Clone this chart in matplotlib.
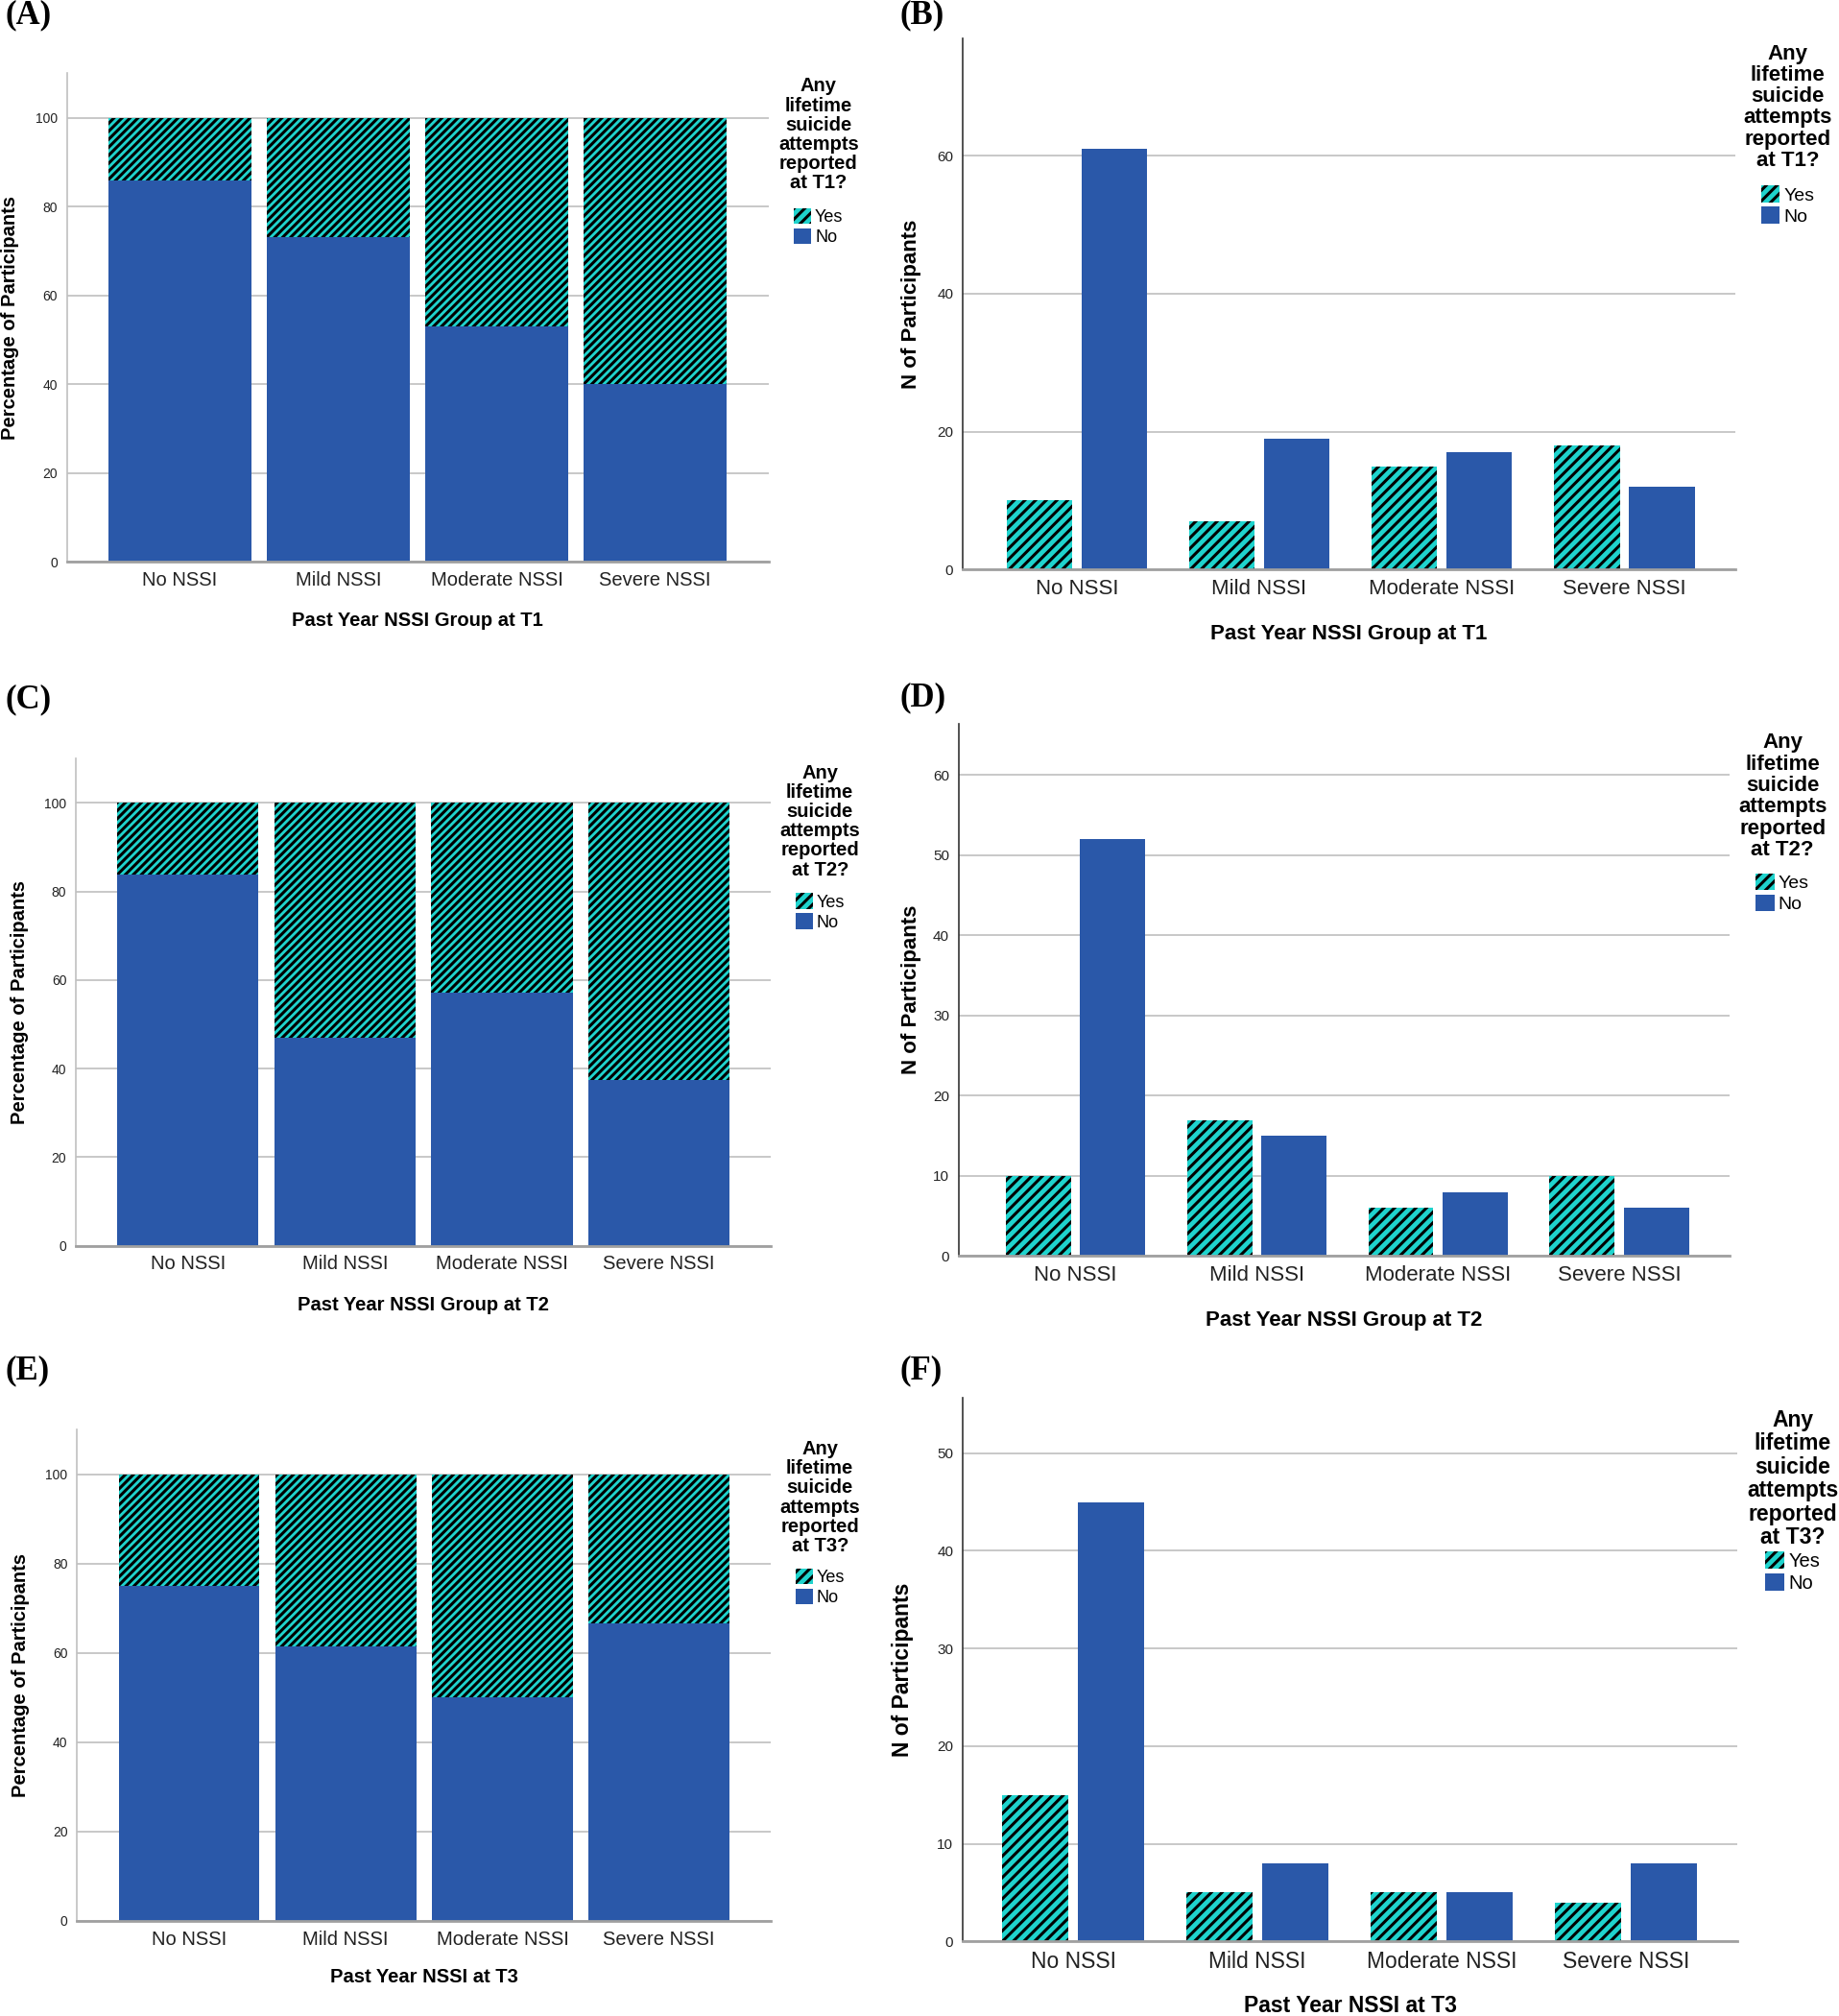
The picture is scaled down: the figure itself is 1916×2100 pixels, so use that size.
import matplotlib
matplotlib.use('Agg')
import matplotlib.pyplot as plt
from matplotlib.patches import Patch
import numpy as np

plt.rcParams['font.family'] = ['Liberation Sans', 'DejaVu Sans']
plt.rcParams['hatch.linewidth'] = 2.2

BLUE = '#2a58a9'
CYAN = '#1fd3cd'

groups = ['No NSSI', 'Mild NSSI', 'Moderate NSSI', 'Severe NSSI']

# percentages (panels A, C, E)
pct_no_t1 = [85.9, 73.1, 53.1, 40.0]
pct_yes_t1 = [14.1, 26.9, 46.9, 60.0]
pct_no_t2 = [83.9, 46.9, 57.1, 37.5]
pct_yes_t2 = [16.1, 53.1, 42.9, 62.5]
pct_no_t3 = [75.0, 61.5, 50.0, 66.7]
pct_yes_t3 = [25.0, 38.5, 50.0, 33.3]

# counts (panels B, D, F)
yes_t1 = [10, 7, 15, 18]
no_t1 = [61, 19, 17, 12]
yes_t2 = [10, 17, 6, 10]
no_t2 = [52, 15, 8, 6]
yes_t3 = [15, 5, 5, 4]
no_t3 = [45, 8, 5, 8]

# reference was laid out at 1431x1568, output is 1916x2100
W, H = 1431.0, 1568.0
fig = plt.figure(figsize=(19.16, 21.0), dpi=100, facecolor='white')


def rect(l, t, r, b):
    return [l / W, 1 - b / H, (r - l) / W, (b - t) / H]


def style(ax, fs, spine_col, tick_fs, tick_pad):
    for s in ['top', 'right']:
        ax.spines[s].set_visible(False)
    ax.spines['left'].set_color(spine_col)
    ax.spines['left'].set_linewidth(1.2)
    ax.spines['bottom'].set_color('#a0a0a0')
    ax.spines['bottom'].set_linewidth(2.0)
    ax.yaxis.grid(True, color='#c8c8c8', linewidth=1.4)
    ax.set_axisbelow(True)
    ax.tick_params(axis='both', length=0)
    ax.tick_params(axis='y', labelsize=tick_fs, pad=tick_pad, labelcolor='#222222')
    ax.tick_params(axis='x', labelsize=fs, pad=7, labelcolor='#222222')


def legend(ax, t, x, ytitle, yentry, title_fs, fs):
    title = 'Any\nlifetime\nsuicide\nattempts\nreported\nat %s?' % t
    fig.text(x / W, 1 - ytitle / H, title, fontsize=title_fs, fontweight='bold',
             ha='center', va='top', multialignment='center', linespacing=1.08)
    handles = [Patch(facecolor=CYAN, edgecolor='black', hatch='///', linewidth=0),
               Patch(facecolor=BLUE, linewidth=0)]
    ax.legend(handles, ['Yes', 'No'], loc='upper center',
              bbox_to_anchor=(x / W, 1 - yentry / H),
              bbox_transform=fig.transFigure, frameon=False, fontsize=fs,
              handlelength=1.0, handleheight=1.0, handletextpad=0.2,
              labelspacing=0.15, borderpad=0)


def stacked(r, no, yes, xlabel, t, ylab_x, xlab_y, leg, fs):
    ax = fig.add_axes(rect(*r))
    x = np.arange(len(groups))
    ax.bar(x, no, width=0.9, color=BLUE, linewidth=0, zorder=2)
    ax.bar(x, yes, bottom=no, width=0.9, color=CYAN, hatch='////',
           edgecolor='black', linewidth=0, zorder=2)
    ax.set_xlim(-0.715, 3.715)
    ax.set_ylim(0, 110)
    ax.set_yticks([0, 20, 40, 60, 80, 100])
    ax.set_xticks(x)
    ax.set_xticklabels(groups)
    style(ax, fs, '#c0c0c0', 10, 7)
    ax.set_ylabel('Percentage of Participants', fontsize=fs, fontweight='bold')
    ax.yaxis.set_label_coords(ylab_x, 0.5)
    ax.set_xlabel(xlabel, fontsize=fs, fontweight='bold')
    ax.xaxis.set_label_coords(0.5, xlab_y)
    ax.xaxis.label.set_va('center')
    legend(ax, t, leg[0], leg[1], leg[2], fs, fs - 1.5)
    return ax


def grouped(r, yes, no, ylim, yticks, xlabel, t, ylab_x, xlab_y, leg, fs, xlim):
    ax = fig.add_axes(rect(*r))
    x = np.arange(len(groups))
    ax.bar(x - 0.205, yes, width=0.36, color=CYAN, hatch='///',
           edgecolor='black', linewidth=0, zorder=2)
    ax.bar(x + 0.205, no, width=0.36, color=BLUE, linewidth=0, zorder=2)
    ax.set_xlim(*xlim)
    ax.set_ylim(0, ylim)
    ax.set_yticks(yticks)
    ax.set_xticks(x)
    ax.set_xticklabels(groups)
    style(ax, fs, '#333333', 11, 7)
    ax.set_ylabel('N of Participants', fontsize=fs, fontweight='bold')
    ax.yaxis.set_label_coords(ylab_x, 0.5)
    ax.set_xlabel(xlabel, fontsize=fs, fontweight='bold')
    ax.xaxis.set_label_coords(0.5, xlab_y)
    ax.xaxis.label.set_va('center')
    legend(ax, t, leg[0], leg[1], leg[2], fs, fs - 2)
    return ax


# left column: percentages
stacked((52, 57, 598, 437), pct_no_t1, pct_yes_t1, 'Past Year NSSI Group at T1', 'T1',
        -0.068, -0.121, (637, 60, 155), 14.5)
stacked((59, 590, 600, 969), pct_no_t2, pct_yes_t2, 'Past Year NSSI Group at T2', 'T2',
        -0.068, -0.121, (638, 594, 688), 14.5)
stacked((60, 1112, 600, 1494), pct_no_t3, pct_yes_t3, 'Past Year NSSI at T3', 'T3',
        -0.0685, -0.115, (638, 1120, 1213), 14.5)

# right column: counts
grouped((749, 30, 1350, 443), yes_t1, no_t1, 77, [0, 20, 40, 60],
        'Past Year NSSI Group at T1', 'T1', -0.053, -0.121, (1391, 34, 137), 16,
        (-0.625, 3.605))
grouped((746, 563, 1346, 977), yes_t2, no_t2, 66.4, [0, 10, 20, 30, 40, 50, 60],
        'Past Year NSSI Group at T2', 'T2', -0.048, -0.121, (1387, 570, 672), 16,
        (-0.645, 3.61))
grouped((749, 1087, 1352, 1510), yes_t3, no_t3, 55.7, [0, 10, 20, 30, 40, 50],
        'Past Year NSSI at T3', 'T3', -0.063, -0.118, (1395, 1096, 1199), 16.5,
        (-0.6, 3.607))

# panel letters
for lab, x, y in [('(A)', 4, 12), ('(B)', 700, 12), ('(C)', 4, 544),
                  ('(D)', 700, 543), ('(E)', 4, 1066), ('(F)', 700, 1066)]:
    fig.text(x / W, 1 - y / H, lab, fontsize=25, fontweight='bold',
             family=['Liberation Serif', 'DejaVu Serif'], va='center', ha='left')

fig.savefig('out.png', dpi=100, facecolor='white')
